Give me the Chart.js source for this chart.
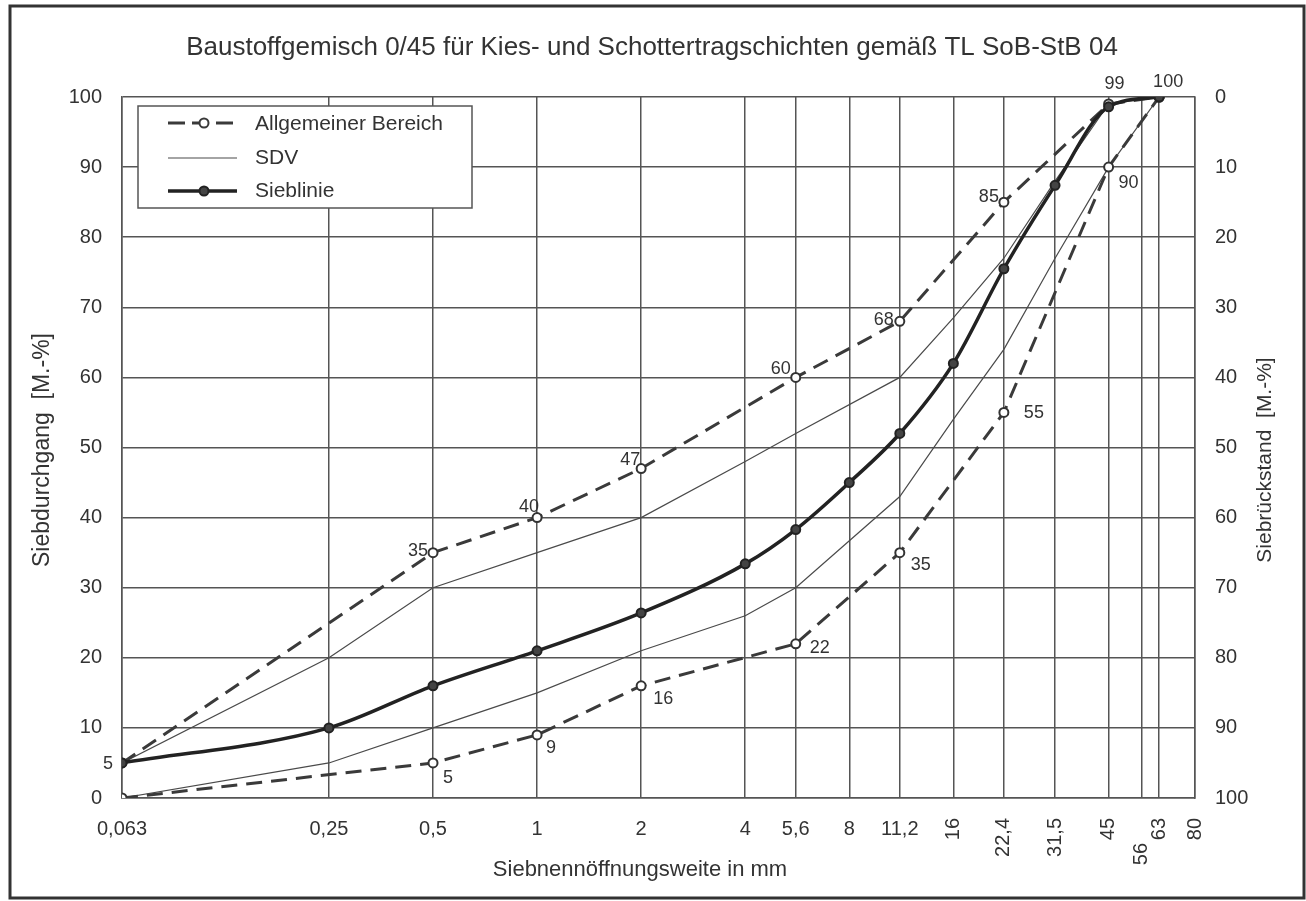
<!DOCTYPE html>
<html>
<head>
<meta charset="utf-8">
<script src="https://cdn.jsdelivr.net/npm/chart.js@4.4.1/dist/chart.umd.min.js"></script>
<style>
  html, body { margin: 0; padding: 0; background: #fff; }
  canvas { display: block; }
</style>
</head>
<body>
<canvas id="sieblinie" width="1306" height="901"></canvas>
<script>
// Siebe (mm) und Beschriftungen der x-Achse
const siebe = [0.063, 0.25, 0.5, 1, 2, 4, 5.6, 8, 11.2, 16, 22.4, 31.5, 45, 56, 63, 80];
const siebeText = ['0,063', '0,25', '0,5', '1', '2', '4', '5,6', '8', '11,2', '16', '22,4', '31,5', '45', '56', '63', '80'];
const yTicks = [0, 10, 20, 30, 40, 50, 60, 70, 80, 90, 100];

// Allgemeiner Bereich (obere / untere Grenze)
const bereichSiebe = [0.063, 0.5, 1, 2, 5.6, 11.2, 22.4, 45, 63];
const bereichOben = [5, 35, 40, 47, 60, 68, 85, 99, 100];
const bereichUnten = [0, 5, 9, 16, 22, 35, 55, 90, 100];

// SDV
const sdvSiebe = [0.063, 0.25, 0.5, 1, 2, 4, 5.6, 11.2, 16, 22.4, 31.5, 45, 63];
const sdvOben = [5, 20, 30, 35, 40, 48, 52, 60, 68.5, 77, 88, 99, 100];
const sdvUnten = [0, 5, 10, 15, 21, 26, 30, 43, 54, 64, 77, 90, 100];

// Sieblinie
const linieSiebe = [0.063, 0.25, 0.5, 1, 2, 4, 5.6, 8, 11.2, 16, 22.4, 31.5, 45, 63];
const linieWerte = [5, 10, 16, 21, 26.4, 33.4, 38.3, 45, 52, 62, 75.5, 87.4, 98.6, 100];

const schrift = "'Liberation Sans', Arial, sans-serif";
const dunkel = '#333';

// Lage der Wertbeschriftungen relativ zum Punkt (dx, dy)
const versatzOben = [[-14, 1], [-15, -2], [-8, -11], [-11, -8], [-15, -8], [-16, -1], [-15, -5], [6, -20], [9, -15]];
const versatzUnten = [null, [15, 15], [14, 13], [22, 13], [24, 4], [21, 12], [30, 1], [20, 16], null];
// gedrehte Achsenbeschriftungen (oberes Ende in y)
const gedreht = { '16': 818, '22,4': 818, '31,5': 818, '45': 818, '56': 843, '63': 818, '80': 818 };

const punkte = (xs, ys) => xs.map((x, i) => ({ x: x, y: ys[i] }));

const bereichStil = {
  borderColor: '#3a3a3a', borderWidth: 3, borderDash: [16, 9],
  pointRadius: 4.5, pointBorderWidth: 2, pointBackgroundColor: '#fff', pointBorderColor: '#333',
  tension: 0
};
const sdvStil = { borderColor: '#4a4a4a', borderWidth: 1.2, pointRadius: 0, tension: 0 };

const extras = {
  id: 'extras',
  beforeDraw(chart) {
    const c = chart.ctx;
    c.save();
    c.fillStyle = '#fff';
    c.fillRect(0, 0, chart.width, chart.height);
    c.restore();
  },
  afterDraw(chart) {
    const c = chart.ctx;
    const x = chart.scales.x, y = chart.scales.y;
    c.save();
    c.fillStyle = dunkel;

    // Titel
    c.font = '26px ' + schrift;
    c.textAlign = 'center';
    c.textBaseline = 'middle';
    c.fillText('Baustoffgemisch 0/45 für Kies- und Schottertragschichten gemäß TL SoB-StB 04', 652, 48);

    // x-Achse
    c.font = '20px ' + schrift;
    siebe.forEach((s, i) => {
      const px = x.getPixelForValue(s);
      const t = siebeText[i];
      if (gedreht[t] !== undefined) {
        c.save();
        c.translate(px, gedreht[t]);
        c.rotate(-Math.PI / 2);
        c.textAlign = 'right';
        c.textBaseline = 'middle';
        c.fillText(t, 0, 0);
        c.restore();
      } else {
        c.textAlign = 'center';
        c.textBaseline = 'middle';
        c.fillText(t, px, 829);
      }
    });
    c.font = '22px ' + schrift;
    c.textAlign = 'center';
    c.fillText('Siebnennöffnungsweite in mm', 640, 870);

    // y-Achsentitel
    c.save();
    c.font = '23px ' + schrift;
    c.translate(43, 450);
    c.rotate(-Math.PI / 2);
    c.fillText('Siebdurchgang  [M.-%]', 0, 0);
    c.restore();
    c.save();
    c.font = '21px ' + schrift;
    c.translate(1265, 460);
    c.rotate(-Math.PI / 2);
    c.fillText('Siebrückstand  [M.-%]', 0, 0);
    c.restore();

    // Wertbeschriftungen
    c.font = '18px ' + schrift;
    c.textAlign = 'center';
    c.textBaseline = 'middle';
    bereichSiebe.forEach((s, i) => {
      const px = x.getPixelForValue(s);
      const o = versatzOben[i];
      if (o) c.fillText(String(bereichOben[i]), px + o[0], y.getPixelForValue(bereichOben[i]) + o[1]);
      const u = versatzUnten[i];
      if (u) c.fillText(String(bereichUnten[i]), px + u[0], y.getPixelForValue(bereichUnten[i]) + u[1]);
    });

    // Legende
    c.fillStyle = '#fff';
    c.fillRect(138, 106, 334, 102);
    c.strokeStyle = '#555';
    c.lineWidth = 1.5;
    c.strokeRect(138, 106, 334, 102);

    c.strokeStyle = '#3a3a3a';
    c.lineWidth = 3;
    c.setLineDash([17, 7]);
    c.beginPath(); c.moveTo(168, 123); c.lineTo(237, 123); c.stroke();
    c.setLineDash([]);
    c.fillStyle = '#fff';
    c.lineWidth = 2;
    c.beginPath(); c.arc(204, 123, 4.5, 0, Math.PI * 2); c.fill(); c.stroke();

    c.strokeStyle = '#4a4a4a';
    c.lineWidth = 1.2;
    c.beginPath(); c.moveTo(168, 158); c.lineTo(237, 158); c.stroke();

    c.strokeStyle = '#222';
    c.lineWidth = 3.5;
    c.beginPath(); c.moveTo(168, 191); c.lineTo(237, 191); c.stroke();
    c.fillStyle = '#444';
    c.lineWidth = 2;
    c.beginPath(); c.arc(204, 191, 4.5, 0, Math.PI * 2); c.fill(); c.stroke();

    c.fillStyle = dunkel;
    c.font = '21px ' + schrift;
    c.textAlign = 'left';
    c.fillText('Allgemeiner Bereich', 255, 124);
    c.fillText('SDV', 255, 158);
    c.fillText('Sieblinie', 255, 191);

    // Rahmen
    c.strokeStyle = '#333';
    c.lineWidth = 3;
    c.strokeRect(10, 6, 1294, 892);
    c.restore();
  }
};

const gitter = { color: '#555', lineWidth: 1.5, drawTicks: false };
const rand = { color: '#555', width: 1.5 };
const tickSchrift = { family: schrift, size: 20 };

new Chart(document.getElementById('sieblinie').getContext('2d'), {
  type: 'line',
  data: {
    datasets: [
      Object.assign({ label: 'Sieblinie', data: punkte(linieSiebe, linieWerte),
        borderColor: '#222', borderWidth: 3.5, pointRadius: 4.5, pointBorderWidth: 2,
        pointBackgroundColor: '#444', pointBorderColor: '#222', cubicInterpolationMode: 'monotone' }),
      Object.assign({ label: 'Allgemeiner Bereich', data: punkte(bereichSiebe, bereichOben) }, bereichStil),
      Object.assign({ label: 'Allgemeiner Bereich unten', data: punkte(bereichSiebe, bereichUnten) }, bereichStil),
      Object.assign({ label: 'SDV', data: punkte(sdvSiebe, sdvOben) }, sdvStil),
      Object.assign({ label: 'SDV unten', data: punkte(sdvSiebe, sdvUnten) }, sdvStil)
    ]
  },
  options: {
    responsive: false,
    animation: false,
    layout: { padding: { top: 97, left: 0, right: 0, bottom: 0 } },
    plugins: { legend: { display: false }, tooltip: { enabled: false } },
    scales: {
      x: {
        type: 'logarithmic', min: 0.063, max: 80,
        afterBuildTicks: s => { s.ticks = siebe.map(v => ({ value: v })); },
        afterFit: s => { s.height = 103; },
        ticks: { display: false },
        grid: gitter, border: rand
      },
      y: {
        min: 0, max: 100,
        afterBuildTicks: s => { s.ticks = yTicks.map(v => ({ value: v })); },
        afterFit: s => { s.width = 122; },
        ticks: { font: tickSchrift, color: dunkel, padding: 20 },
        grid: gitter, border: rand
      },
      y2: {
        position: 'right', reverse: true, min: 0, max: 100,
        afterBuildTicks: s => { s.ticks = yTicks.map(v => ({ value: v })); },
        afterFit: s => { s.width = 111; },
        ticks: { font: tickSchrift, color: dunkel, padding: 20 },
        grid: { drawOnChartArea: false, drawTicks: false }, border: rand
      }
    }
  },
  plugins: [extras]
});
</script>
</body>
</html>
